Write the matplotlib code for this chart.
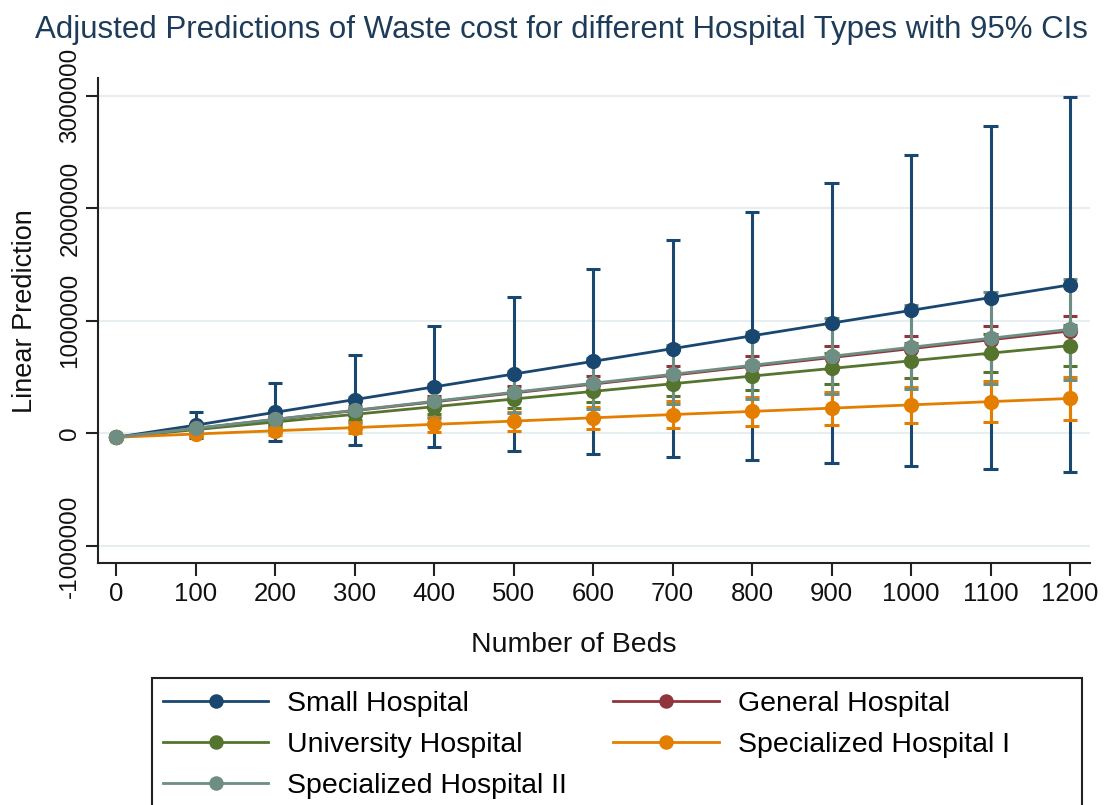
import matplotlib
matplotlib.use("Agg")
import matplotlib.pyplot as plt
from matplotlib.patches import Rectangle

plt.rcParams['font.family'] = ['Liberation Sans', 'DejaVu Sans']
plt.rcParams['axes.unicode_minus'] = False

# data
beds = [0, 100, 200, 300, 400, 500, 600, 700, 800, 900, 1000, 1100, 1200]

small_mean = [-35000, 73000, 187000, 300000, 413000, 527000, 640000, 753000, 867000, 980000, 1093000, 1207000, 1320000]
small_lower = [-45000, -44000, -70000, -100000, -125000, -160000, -185000, -210000, -235000, -265000, -290000, -320000, -340000]
small_upper = [-25000, 190000, 445000, 700000, 955000, 1210000, 1460000, 1715000, 1970000, 2225000, 2475000, 2735000, 2990000]

general_mean = [-35000, 44000, 123000, 202000, 280000, 359000, 438000, 517000, 596000, 674000, 753000, 832000, 910000]
general_lower = [-40000, 29000, 97000, 165000, 232000, 300000, 368000, 436000, 504000, 571000, 639000, 707000, 774000]
general_upper = [-30000, 59000, 149000, 239000, 328000, 418000, 508000, 598000, 688000, 777000, 867000, 957000, 1046000]

univ_mean = [-35000, 33000, 101000, 169000, 237000, 305000, 373000, 441000, 509000, 577000, 645000, 713000, 780000]
univ_lower = [-40000, 13000, 66000, 119000, 172000, 225000, 278000, 331000, 384000, 437000, 490000, 543000, 595000]
univ_upper = [-30000, 53000, 136000, 219000, 302000, 385000, 468000, 551000, 634000, 717000, 800000, 883000, 965000]

spec1_mean = [-35000, -6000, 23000, 51000, 80000, 109000, 138000, 167000, 195000, 224000, 253000, 282000, 310000]
spec1_lower = [-40000, -26000, -13000, -1000, 12000, 25000, 38000, 51000, 64000, 77000, 90000, 103000, 115000]
spec1_upper = [-30000, 14000, 59000, 103000, 148000, 193000, 238000, 283000, 326000, 371000, 416000, 461000, 505000]

spec2_mean = [-35000, 45000, 125000, 205000, 285000, 365000, 445000, 525000, 605000, 685000, 765000, 845000, 925000]
spec2_lower = [-43000, 5000, 48000, 91000, 134000, 177000, 220000, 263000, 306000, 349000, 392000, 435000, 478000]
spec2_upper = [-27000, 85000, 202000, 319000, 436000, 553000, 670000, 787000, 904000, 1021000, 1138000, 1255000, 1372000]

series = [
    ("Small Hospital", small_mean, small_lower, small_upper, "#1a476f"),
    ("General Hospital", general_mean, general_lower, general_upper, "#90353b"),
    ("University Hospital", univ_mean, univ_lower, univ_upper, "#55752f"),
    ("Specialized Hospital I", spec1_mean, spec1_lower, spec1_upper, "#e37e00"),
    ("Specialized Hospital II", spec2_mean, spec2_lower, spec2_upper, "#6e8e84"),
]

yticks = [-1000000, 0, 1000000, 2000000, 3000000]
xticks = beds

fig = plt.figure(figsize=(11.05, 8.05), dpi=100)
ax = fig.add_axes([0.0887, 0.301, 0.8977, 0.602])

# confidence intervals first, then lines on top
for name, mean, lo, hi, col in series:
    ax.vlines(beds, lo, hi, color=col, lw=2.2, zorder=2)
    ax.hlines(lo, [b - 9 for b in beds], [b + 9 for b in beds], color=col, lw=2.2, zorder=2)
    ax.hlines(hi, [b - 9 for b in beds], [b + 9 for b in beds], color=col, lw=2.2, zorder=2)

handles = {}
for name, mean, lo, hi, col in series:
    h, = ax.plot(beds, mean, color=col, lw=2.0, marker='o', markersize=11,
                 markeredgewidth=0, zorder=3, label=name)
    handles[name] = h

ax.set_xlim(-23, 1225)
ax.set_ylim(-1150000, 3158000)
ax.set_yticks(yticks)
ax.set_yticklabels([str(v) for v in yticks], rotation=90, va='center', fontsize=17.5)
ax.set_xticks(xticks)
ax.set_xticklabels([str(v) for v in xticks], fontsize=18.5)
ax.tick_params(axis='both', length=9, width=1.5, color='#222222', labelcolor='#111111')
ax.tick_params(axis='y', pad=3)
ax.tick_params(axis='x', pad=5)
ax.grid(axis='y', color='#e6eef1', lw=1.5, zorder=0)
for s in ['top', 'right']:
    ax.spines[s].set_visible(False)
for s in ['left', 'bottom']:
    ax.spines[s].set_linewidth(1.5)
    ax.spines[s].set_color('#222222')

fig.text(0.508, 0.963, "Adjusted Predictions of Waste cost for different Hospital Types with 95% CIs",
         ha='center', va='center', fontsize=22.5, color='#1e3c5a')
fig.text(25 / 1105, 1 - 311 / 805, "Linear Prediction", rotation=90, ha='center', va='center',
         fontsize=19.5, color='#111111')
fig.text(574 / 1105, 1 - 645 / 805, "Number of Beds", ha='center', va='center',
         fontsize=20.4, color='#111111')

order = ["Small Hospital", "University Hospital", "Specialized Hospital II",
         "General Hospital", "Specialized Hospital I"]
fig.legend([handles[n] for n in order], order, ncol=2, loc='upper left',
           bbox_to_anchor=(151.5 / 1105, 1 - 679.5 / 805), frameon=False, fontsize=20.5,
           handlelength=3.7, handletextpad=0.67, columnspacing=1.62, labelspacing=0.53,
           borderpad=0.4, borderaxespad=0, markerscale=0.95)
fig.patches.append(Rectangle((152 / 1105, -0.02), (1082 - 152) / 1105, 0.02 + (805 - 678) / 805,
                             transform=fig.transFigure, fill=False, lw=1.5, ec='#222222'))

fig.savefig("out.png", dpi=100, facecolor='white')
